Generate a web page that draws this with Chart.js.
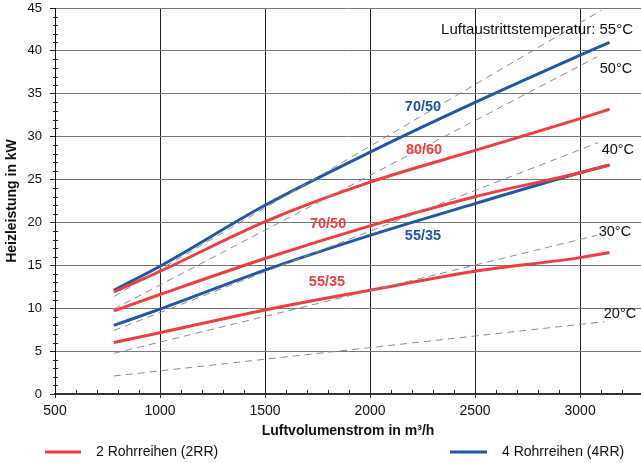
<!DOCTYPE html>
<html>
<head>
<meta charset="utf-8">
<script src="https://cdn.jsdelivr.net/npm/chart.js@4.4.1/dist/chart.umd.min.js"></script>
<style>
body{margin:0;background:#fff;}
#wrap{width:641px;height:463px;}
</style>
</head>
<body>
<div id="wrap"><canvas id="chart" width="641" height="463"></canvas></div>
<script>
var airflow = [780, 1000, 1500, 2000, 2500, 3000, 3140];
var rr2_5535 = [6.0, 7.15, 9.8, 12.1, 14.3, 15.9, 16.5];
var rr2_7050 = [9.7, 11.6, 15.8, 19.6, 23.0, 25.8, 26.7];
var rr2_8060 = [11.9, 14.3, 20.1, 24.7, 28.4, 32.1, 33.2];
var rr4_5535 = [8.0, 9.9, 14.45, 18.5, 22.2, 25.8, 26.7];
var rr4_7050 = [12.1, 14.9, 22.0, 28.2, 34.0, 39.5, 41.0];

var tempNames = ['20°C', '30°C', '40°C', '50°C', 'Luftaustrittstemperatur: 55°C'];
var tempFlow = [[780, 3114], [780, 3080], [780, 3086], [780, 3080], [780, 3103]];
var tempPower = [[2.1, 8.43], [4.74, 18.5], [7.4, 29.3], [9.9, 39.3], [11.35, 44.75]];

var xTicks = [500, 1000, 1500, 2000, 2500, 3000];
var yTicks = [0, 5, 10, 15, 20, 25, 30, 35, 40, 45];

var legendNames = ['2 Rohrreihen (2RR)', '4 Rohrreihen (4RR)'];

var red = '#EE3E3F';
var blue = '#2157A6';
var fam = '"Liberation Sans", Arial, sans-serif';

// where the text labels sit (data units)
var curveLabels = [
  {text:'70/50', x:2252, y:33.5, color:blue},
  {text:'80/60', x:2257, y:28.4, color:red},
  {text:'70/50', x:1800, y:19.8, color:red},
  {text:'55/35', x:2252, y:18.4, color:blue},
  {text:'55/35', x:1795, y:13.0, color:red}
];
var tempLabelPos = [[3267, 9.3], [3243, 18.9], [3257, 28.4], [3248, 37.9], [3252, 42.5]];

function pts(xs, ys) {
  var out = [];
  for (var i = 0; i < xs.length; i++) out.push({x: xs[i], y: ys[i]});
  return out;
}

var datasets = [];
for (var t = 0; t < tempNames.length; t++) {
  datasets.push({
    label: tempNames[t],
    data: pts(tempFlow[t], tempPower[t]),
    borderColor: '#8c8c8c',
    borderWidth: 1,
    borderDash: [7, 5],
    pointRadius: 0
  });
}
function curve(label, vals, color) {
  return {
    label: label,
    data: pts(airflow, vals),
    borderColor: color,
    borderWidth: 3,
    pointRadius: 0,
    cubicInterpolationMode: 'monotone'
  };
}
datasets.push(curve('2RR 55/35', rr2_5535, red));
datasets.push(curve('2RR 70/50', rr2_7050, red));
datasets.push(curve('2RR 80/60', rr2_8060, red));
datasets.push(curve('4RR 55/35', rr4_5535, blue));
datasets.push(curve('4RR 70/50', rr4_7050, blue));

var extras = {
  id: 'extras',
  afterDraw: function(chart) {
    var ctx = chart.ctx, sx = chart.scales.x, sy = chart.scales.y, a = chart.chartArea;
    ctx.save();
    // minor ticks
    ctx.strokeStyle = '#222';
    ctx.lineWidth = 1;
    ctx.beginPath();
    for (var v = 600; v < sx.max; v += 100) {
      if (v % 500 === 0) continue;
      var px = Math.round(sx.getPixelForValue(v)) + 0.5;
      ctx.moveTo(px, a.bottom);
      ctx.lineTo(px, a.bottom - 4);
    }
    for (var k = 1; k < 45; k++) {
      if (k % 5 === 0) continue;
      var py = Math.round(sy.getPixelForValue(k)) + 0.5;
      ctx.moveTo(a.left - 2, py);
      ctx.lineTo(a.left + 3, py);
    }
    ctx.stroke();

    // curve labels
    ctx.font = 'bold 14.5px ' + fam;
    ctx.textAlign = 'center';
    ctx.textBaseline = 'middle';
    curveLabels.forEach(function(l) {
      ctx.fillStyle = l.color;
      ctx.fillText(l.text, sx.getPixelForValue(l.x), sy.getPixelForValue(l.y));
    });

    // temperature labels
    ctx.textAlign = 'right';
    ctx.fillStyle = '#111';
    for (var i = 0; i < tempNames.length; i++) {
      ctx.font = (tempNames[i].length > 6 ? '15px ' : '14.5px ') + fam;
      ctx.fillText(tempNames[i], sx.getPixelForValue(tempLabelPos[i][0]), sy.getPixelForValue(tempLabelPos[i][1]));
    }

    // legend
    var ly = 452;
    var items = [[45, 81, 96, red], [450, 487, 502, blue]];
    ctx.font = '14px ' + fam;
    ctx.textAlign = 'left';
    ctx.lineWidth = 3;
    for (var j = 0; j < items.length; j++) {
      ctx.strokeStyle = items[j][3];
      ctx.beginPath();
      ctx.moveTo(items[j][0], ly);
      ctx.lineTo(items[j][1], ly);
      ctx.stroke();
      ctx.fillStyle = '#111';
      ctx.fillText(legendNames[j], items[j][2], ly);
    }
    ctx.restore();
  }
};

var ctx = document.getElementById('chart');
var chart = new Chart(ctx, {
  type: 'line',
  data: {datasets: datasets},
  options: {
    responsive: false,
    animation: false,
    layout: {padding: {top: 0, left: 0, right: 0, bottom: 23}},
    plugins: {legend: {display: false}, tooltip: {enabled: false}},
    scales: {
      x: {
        type: 'linear', min: 500, max: 3290,
        afterFit: function(s) { s.height = 46; s.paddingRight = 0; },
        afterBuildTicks: function(s) { s.ticks = xTicks.map(function(v) { return {value: v}; }); },
        ticks: {padding: 5, maxRotation: 0, autoSkip: false, color: '#111', font: {size: 14, family: fam},
          callback: function(v) { return String(v); }},
        grid: {color: '#222', lineWidth: 1, tickLength: 4, tickColor: '#222'},
        border: {color: '#333', width: 2},
        title: {display: true, text: 'Luftvolumenstrom in m³/h', color: '#111', padding: 0, font: {size: 14, weight: 'bold', family: fam}}
      },
      y: {
        min: 0, max: 45,
        afterFit: function(s) { s.width = 55; s.paddingTop = 8; s.paddingBottom = 0; },
        afterBuildTicks: function(s) { s.ticks = yTicks.map(function(v) { return {value: v}; }); },
        ticks: {padding: 8, autoSkip: false, color: '#111', font: {size: 13, family: fam}},
        grid: {color: '#777', lineWidth: 1, tickLength: 5, tickColor: '#222'},
        border: {color: '#111', width: 1},
        title: {display: true, text: 'Heizleistung in kW', color: '#111', padding: {top: 4, bottom: 0}, font: {size: 14, weight: 'bold', family: fam}}
      }
    }
  },
  plugins: [extras]
});
</script>
</body>
</html>
